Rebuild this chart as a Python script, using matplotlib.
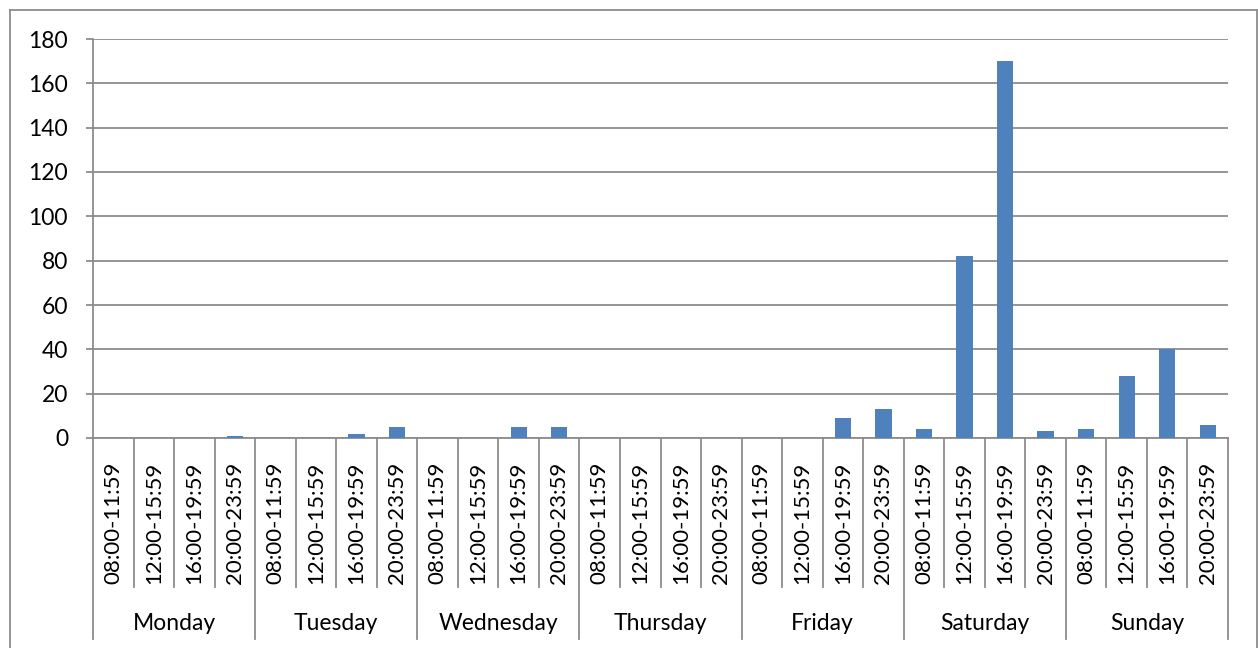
import numpy as np
import matplotlib.pyplot as plt
from matplotlib.lines import Line2D

days = ["Monday", "Tuesday", "Wednesday", "Thursday", "Friday", "Saturday", "Sunday"]
slots = ["08:00-11:59", "12:00-15:59", "16:00-19:59", "20:00-23:59"]
values = [0, 0, 0, 1,
          0, 0, 2, 5,
          0, 0, 5, 5,
          0, 0, 0, 0,
          0, 0, 9, 13,
          4, 82, 170, 3,
          4, 28, 40, 6]

plt.rcParams['font.family'] = ['Lato', 'DejaVu Sans']
W, H = 1258, 648
fig = plt.figure(figsize=(W / 100, H / 100), dpi=100)

# plot area in pixels
x0, x1, ytop, ybot = 93, 1228, 39, 438
ax = fig.add_axes([x0 / W, 1 - ybot / H, (x1 - x0) / W, (ybot - ytop) / H])

n = len(values)
x = np.arange(n)
ax.bar(x, values, width=0.4, color='#4F81BD', zorder=3)
ax.set_xlim(-0.5, n - 0.5)
ax.set_ylim(0, 180)
ax.set_yticks(range(0, 181, 20))
ax.yaxis.grid(True, color='#8c8c8c', linewidth=1.3, zorder=0)
ax.tick_params(axis='y', length=5, width=1.3, color='#8c8c8c', labelsize=16.5, pad=13)
ax.set_xticks([])
for s in ['top', 'right']:
    ax.spines[s].set_visible(False)
for s in ['left', 'bottom']:
    ax.spines[s].set_color('#8c8c8c')
    ax.spines[s].set_linewidth(1.3)

gray = '#8c8c8c'
px = (x1 - x0) / n


def fy(p):
    return 1 - p / H


def fx(p):
    return p / W


# category separators
for i in range(n + 1):
    xp = x0 + i * px
    end = 639 if i % 4 == 0 else 587
    fig.add_artist(Line2D([fx(xp), fx(xp)], [fy(ybot), fy(end)], color=gray, linewidth=1.3))

# time slot labels
for i in range(n):
    xc = x0 + (i + 0.5) * px
    fig.text(fx(xc), fy(584), slots[i % 4], rotation=90, ha='center', va='bottom',
             fontsize=16)

# day labels
for d, day in enumerate(days):
    xc = x0 + (d * 4 + 2) * px
    fig.text(fx(xc), fy(624), day, ha='center', va='center', fontsize=16.5)

# outer chart border
bc = '#8c8c8c'
fig.add_artist(Line2D([fx(10), fx(10)], [fy(10), 0], color=bc, linewidth=1.3))
fig.add_artist(Line2D([fx(10), fx(1256.5)], [fy(10), fy(10)], color=bc, linewidth=1.3))
fig.add_artist(Line2D([fx(1256.5), fx(1256.5)], [fy(10), 0], color=bc, linewidth=1.3))

fig.savefig('out.png', dpi=100)
